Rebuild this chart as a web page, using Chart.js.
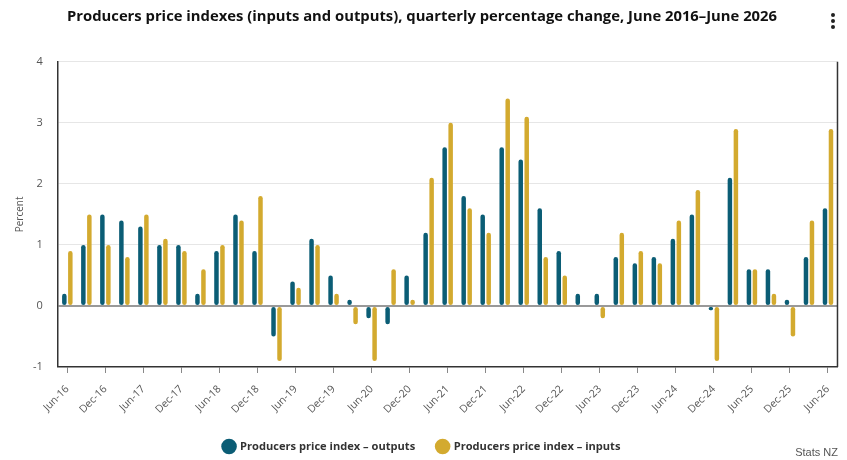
<!DOCTYPE html>
<html>
<head>
<meta charset="utf-8">
<script src="https://cdn.jsdelivr.net/npm/chart.js@4.4.1/dist/chart.umd.min.js"></script>
<style>
  html, body { margin: 0; padding: 0; background: #fff; }
  #wrap { position: relative; width: 847px; height: 460px; }
  #kebab { position: absolute; left: 831px; top: 13px; width: 5px; }
  #kebab span { display: block; width: 4px; height: 4px; border-radius: 50%; background: #222; margin-bottom: 2px; }
  #source { position: absolute; right: 9px; top: 446px; font: 11px "Liberation Sans", Arial, sans-serif; color: #555; }
</style>
</head>
<body>
<div id="wrap">
  <canvas id="c" width="847" height="460"></canvas>
  <div id="kebab"><span></span><span></span><span></span></div>
  <div id="source">Stats NZ</div>
</div>
<script>
const quarters = ["Jun-16","Sep-16","Dec-16","Mar-17","Jun-17","Sep-17","Dec-17","Mar-18","Jun-18","Sep-18","Dec-18",
  "Mar-19","Jun-19","Sep-19","Dec-19","Mar-20","Jun-20","Sep-20","Dec-20","Mar-21","Jun-21","Sep-21","Dec-21",
  "Mar-22","Jun-22","Sep-22","Dec-22","Mar-23","Jun-23","Sep-23","Dec-23","Mar-24","Jun-24","Sep-24","Dec-24",
  "Mar-25","Jun-25","Sep-25","Dec-25","Mar-26","Jun-26"];
const outputs = [0.2,1.0,1.5,1.4,1.3,1.0,1.0,0.2,0.9,1.5,0.9,
  -0.5,0.4,1.1,0.5,0.1,-0.2,-0.3,0.5,1.2,2.6,1.8,1.5,
  2.6,2.4,1.6,0.9,0.2,0.2,0.8,0.7,0.8,1.1,1.5,-0.07,
  2.1,0.6,0.6,0.1,0.8,1.6];
const inputs = [0.9,1.5,1.0,0.8,1.5,1.1,0.9,0.6,1.0,1.4,1.8,
  -0.9,0.3,1.0,0.2,-0.3,-0.9,0.6,0.1,2.1,3.0,1.6,1.2,
  3.4,3.1,0.8,0.5,0,-0.2,1.2,0.9,0.7,1.4,1.9,-0.9,
  2.9,0.6,0.2,-0.5,1.4,2.9];
const yTicks = [-1,0,1,2,3,4];

const rightBorder = {
  id: 'rightBorder',
  afterDraw(chart) {
    const {ctx, chartArea} = chart;
    ctx.save();
    ctx.strokeStyle = '#333';
    ctx.lineWidth = 1.5;
    ctx.beginPath();
    ctx.moveTo(chartArea.right, chartArea.top);
    ctx.lineTo(chartArea.right, chartArea.bottom);
    ctx.stroke();
    ctx.restore();
  }
};

new Chart(document.getElementById('c'), {
  type: 'bar',
  data: {
    labels: quarters,
    datasets: [
      { label: 'Producers price index \u2013 outputs', data: outputs, backgroundColor: '#0b5d75', borderRadius: 3, borderSkipped: false },
      { label: 'Producers price index \u2013 inputs', data: inputs, backgroundColor: '#d3aa2f', borderRadius: 3, borderSkipped: false }
    ]
  },
  options: {
    responsive: false,
    animation: false,
    devicePixelRatio: 1,
    categoryPercentage: 0.63,
    barPercentage: 0.75,
    layout: { padding: { left: 6, right: 9, top: 4, bottom: -2 } },
    plugins: {
      title: {
        display: true,
        text: 'Producers price indexes (inputs and outputs), quarterly percentage change, June 2016\u2013June 2026',
        color: '#111',
        font: { family: 'Open Sans', size: 14.8, weight: 'bold' },
        padding: { top: 4, bottom: 36 }
      },
      legend: {
        position: 'bottom',
        labels: {
          usePointStyle: true,
          pointStyle: 'circle',
          boxWidth: 11,
          boxHeight: 11,
          padding: 22,
          color: '#333',
          font: { family: 'Open Sans', size: 11.1, weight: 'bold' }
        }
      },
      tooltip: { enabled: false }
    },
    scales: {
      x: {
        offset: true,
        afterFit: (s) => { s.height -= 7; },
        grid: { offset: false, drawOnChartArea: false, drawTicks: true, tickLength: 6, color: '#888' },
        border: { display: true, color: '#333', width: 1.5 },
        ticks: {
          autoSkip: false,
          minRotation: 45,
          maxRotation: 45,
          color: '#555',
          padding: 10,
          font: { family: 'Open Sans', size: 10.5 },
          callback: function(value, index) { return index % 2 === 0 ? this.getLabelForValue(value) : null; }
        }
      },
      y: {
        min: -1,
        max: 4,
        afterBuildTicks: (axis) => { axis.ticks = yTicks.map(v => ({ value: v })); },
        grid: {
          drawTicks: false,
          color: (ctx) => ctx.tick && ctx.tick.value === 0 ? '#999' : '#e6e6e6',
          lineWidth: (ctx) => ctx.tick && ctx.tick.value === 0 ? 2 : 1
        },
        border: { display: true, color: '#333', width: 1.5 },
        ticks: { color: '#555', padding: 15, font: { family: 'Open Sans', size: 11 } },
        title: { display: true, text: 'Percent', color: '#555', padding: { top: 8, bottom: -8 }, font: { family: 'Open Sans', size: 10 } }
      }
    }
  },
  plugins: [rightBorder]
});
</script>
</body>
</html>
